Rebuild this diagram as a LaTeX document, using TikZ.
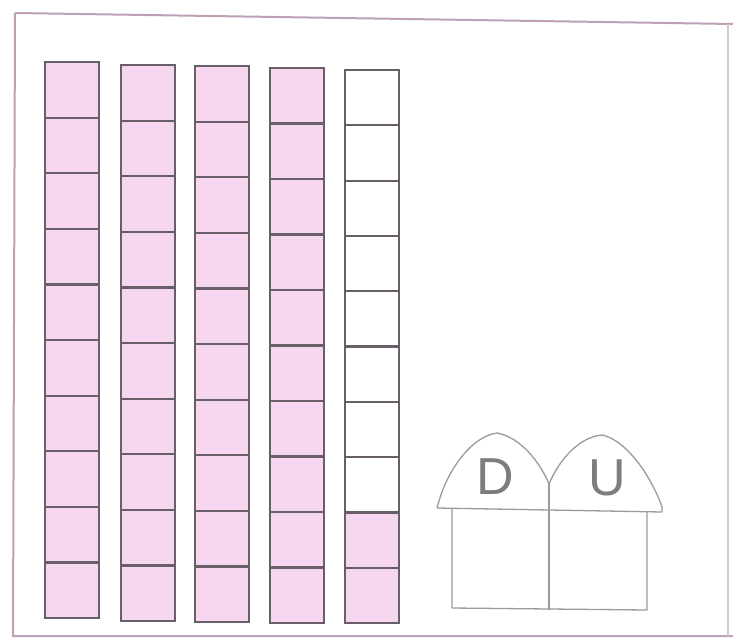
\documentclass[tikz,border=0pt]{standalone}
\usepackage{fontspec}
\setmainfont{Liberation Sans}
\definecolor{cellpink}{RGB}{247,214,239}
\definecolor{cellline}{RGB}{105,95,105}
\definecolor{frameline}{RGB}{190,160,182}
\definecolor{houseline}{RGB}{155,155,155}
\definecolor{lettergray}{RGB}{125,125,125}
\tikzset{
  cellbox/.style={draw=cellline, line width=2.2pt, minimum width=54pt, inner sep=0pt, outer sep=0pt},
  housestroke/.style={draw=houseline, line width=1.3pt, line join=round},
  letter/.style={text=lettergray, font=\fontsize{52}{52}\selectfont, inner sep=0pt}
}
\begin{document}
\begin{tikzpicture}[x=1pt,y=-1pt]
\useasboundingbox (0,0) rectangle (733,642);
\fill[white] (0,0) rectangle (733,642);
% frame
\draw[frameline, line width=2pt] (15,13) -- (733,24);
\draw[frameline, line width=2pt] (15,13) -- (13,636) -- (733,636);
\draw[frameline!60, line width=2pt] (728,24) -- (728,636);
% columns
\foreach \c/\l/\t/\b/\np in {1/45/62/618/10, 2/121/65/621/10, 3/195/66/622/10, 4/270/68/623/10, 5/345/70/623/2}{
  \pgfmathsetmacro{\h}{(\b-\t)/10}
  \foreach \r in {1,...,10}{
    \pgfmathsetmacro{\yc}{\t+(\r-0.5)*\h}
    \pgfmathtruncatemacro{\ispink}{(\r > 10-\np) ? 1 : 0}
    \ifnum\ispink=1
      \node[cellbox, fill=cellpink, minimum height=\h pt] (c\c-\r) at (\l+27,\yc) {};
    \else
      \node[cellbox, fill=white, minimum height=\h pt] (c\c-\r) at (\l+27,\yc) {};
    \fi
  }
}
% house
\draw[housestroke] (437,508) .. controls (447,468) and (473,436) .. (497,433)
  .. controls (520,437) and (540,462) .. (549,484)
  .. controls (560,458) and (580,437) .. (602,435)
  .. controls (627,440) and (652,478) .. (662,507) -- (662,512);
\draw[housestroke] (437,508) -- (662,512);
\draw[housestroke] (452,509) -- (452,608) -- (647,610) -- (647,511);
\draw[housestroke] (549,484) -- (549,610);
\node[letter] (D) at (495,477) {D};
\node[letter] (U) at (607,478) {U};
\end{tikzpicture}
\end{document}
